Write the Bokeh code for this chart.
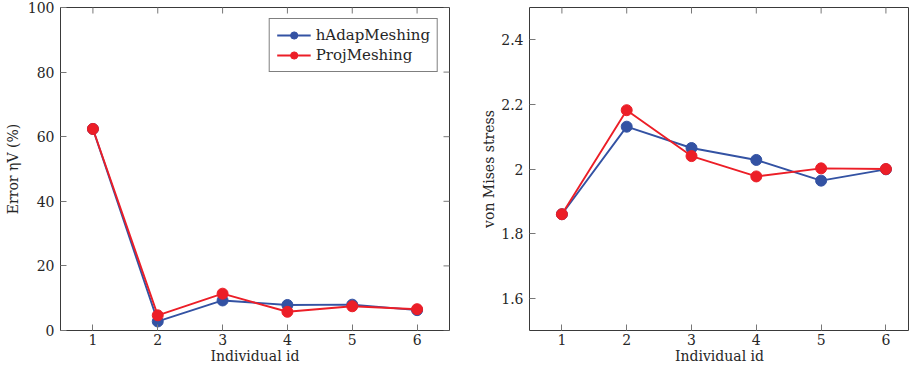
import math
from bokeh.plotting import figure
from bokeh.models import Range1d, FixedTicker, Legend, LegendItem
from bokeh.layouts import row
from bokeh.embed import file_html
from bokeh.resources import INLINE

# ---- data ----
ids = [1, 2, 3, 4, 5, 6]
err_hadap = [62.4, 2.8, 9.3, 7.9, 8.0, 6.3]
err_proj = [62.4, 4.7, 11.4, 5.8, 7.5, 6.6]
vm_hadap = [1.860, 2.131, 2.065, 2.028, 1.964, 1.999]
vm_proj = [1.860, 2.182, 2.040, 1.977, 2.002, 2.000]
series_names = ["hAdapMeshing", "ProjMeshing"]
left_ticks = [0, 20, 40, 60, 80, 100]
right_ticks = [1.6, 1.8, 2.0, 2.2, 2.4]
right_tick_labels = ["1.6", "1.8", "2", "2.2", "2.4"]
x_label = "Individual id"
left_ylabel = "Error \u03b7V (%)"
right_ylabel = "von Mises stress"

BLUE = "#3352A3"
RED = "#EC1E27"
FONT = "DejaVu Serif"
FS = "14px"
TXT = "#262626"
FRAME = "#3a3a3a"
TICK = "#777777"
LW = 1.9
MS = 11


def style_axis(ax):
    ax.axis_line_color = None
    ax.major_tick_in = 6
    ax.major_tick_out = 0
    ax.minor_tick_line_color = None
    ax.major_tick_line_color = TICK
    ax.major_tick_line_width = 1
    ax.major_label_text_font = FONT
    ax.major_label_text_color = TXT
    ax.major_label_text_font_size = FS
    ax.axis_label_text_font = FONT
    ax.axis_label_text_font_style = "normal"
    ax.axis_label_text_color = TXT
    ax.axis_label_text_font_size = FS


def make_fig(width, xr, yr, yticks, ml, mr, mirror_right):
    p = figure(width=width, height=368, x_range=xr, y_range=yr,
               output_backend="svg", toolbar_location=None,
               min_border_left=ml, min_border_right=mr,
               min_border_top=7, min_border_bottom=38)
    p.xgrid.visible = False
    p.ygrid.visible = False
    p.outline_line_color = FRAME
    p.outline_line_width = 1
    xax = p.below[0]
    yax = p.left[0]
    xax.ticker = FixedTicker(ticks=ids)
    yax.ticker = FixedTicker(ticks=yticks)
    style_axis(xax)
    style_axis(yax)
    xax.major_label_standoff = 3
    xax.axis_label_standoff = 0
    xax.axis_label = x_label
    yax.major_label_standoff = 6
    yax.axis_label_standoff = 4
    # mirrored tick marks on the top (and right) frame edges
    p.scatter(ids, [yr.end] * len(ids), marker="dash", size=12,
              angle=math.pi / 2, line_color=TICK, line_width=1)
    if mirror_right:
        p.scatter([xr.end] * len(yticks), yticks, marker="dash", size=12,
                  line_color=TICK, line_width=1)
    return p, yax


# ---- left chart ----
p1, y1 = make_fig(455, Range1d(0.5, 6.5), Range1d(0, 100), left_ticks, 60, 6, True)
y1.axis_label = left_ylabel

l1 = p1.line(ids, err_hadap, line_color=BLUE, line_width=LW)
c1 = p1.scatter(ids, err_hadap, size=MS, fill_color=BLUE, line_color=BLUE)
l2 = p1.line(ids, err_proj, line_color=RED, line_width=LW)
c2 = p1.scatter(ids, err_proj, size=MS, fill_color=RED, line_color=RED)

legend = Legend(items=[LegendItem(label=series_names[0], renderers=[l1, c1]),
                       LegendItem(label=series_names[1], renderers=[l2, c2])],
                location="top_right")
legend.margin = 11
legend.padding = 7
legend.spacing = 2
legend.label_height = 18
legend.glyph_height = 18
legend.glyph_width = 34
legend.label_standoff = 5
legend.label_text_font = FONT
legend.label_text_font_size = "15px"
legend.label_text_color = TXT
legend.border_line_color = "black"
legend.border_line_width = 1
legend.background_fill_alpha = 1
p1.add_layout(legend)

# ---- right chart ----
p2, y2 = make_fig(454, Range1d(0.5, 6.364), Range1d(1.5, 2.5), right_ticks, 74, 0, False)
y2.axis_label = right_ylabel
y2.axis_label_standoff = 1
y2.major_label_overrides = {t: s for t, s in zip(right_ticks, right_tick_labels)}

p2.line(ids, vm_hadap, line_color=BLUE, line_width=LW)
p2.scatter(ids, vm_hadap, size=MS, fill_color=BLUE, line_color=BLUE)
p2.line(ids, vm_proj, line_color=RED, line_width=LW)
p2.scatter(ids, vm_proj, size=MS, fill_color=RED, line_color=RED)

layout = row(p1, p2)
html = file_html(layout, INLINE)
html = html.replace("<head>", "<head><style>html,body{margin:0;padding:0;overflow:hidden;}</style>", 1)
open("out.html", "w").write(html)
